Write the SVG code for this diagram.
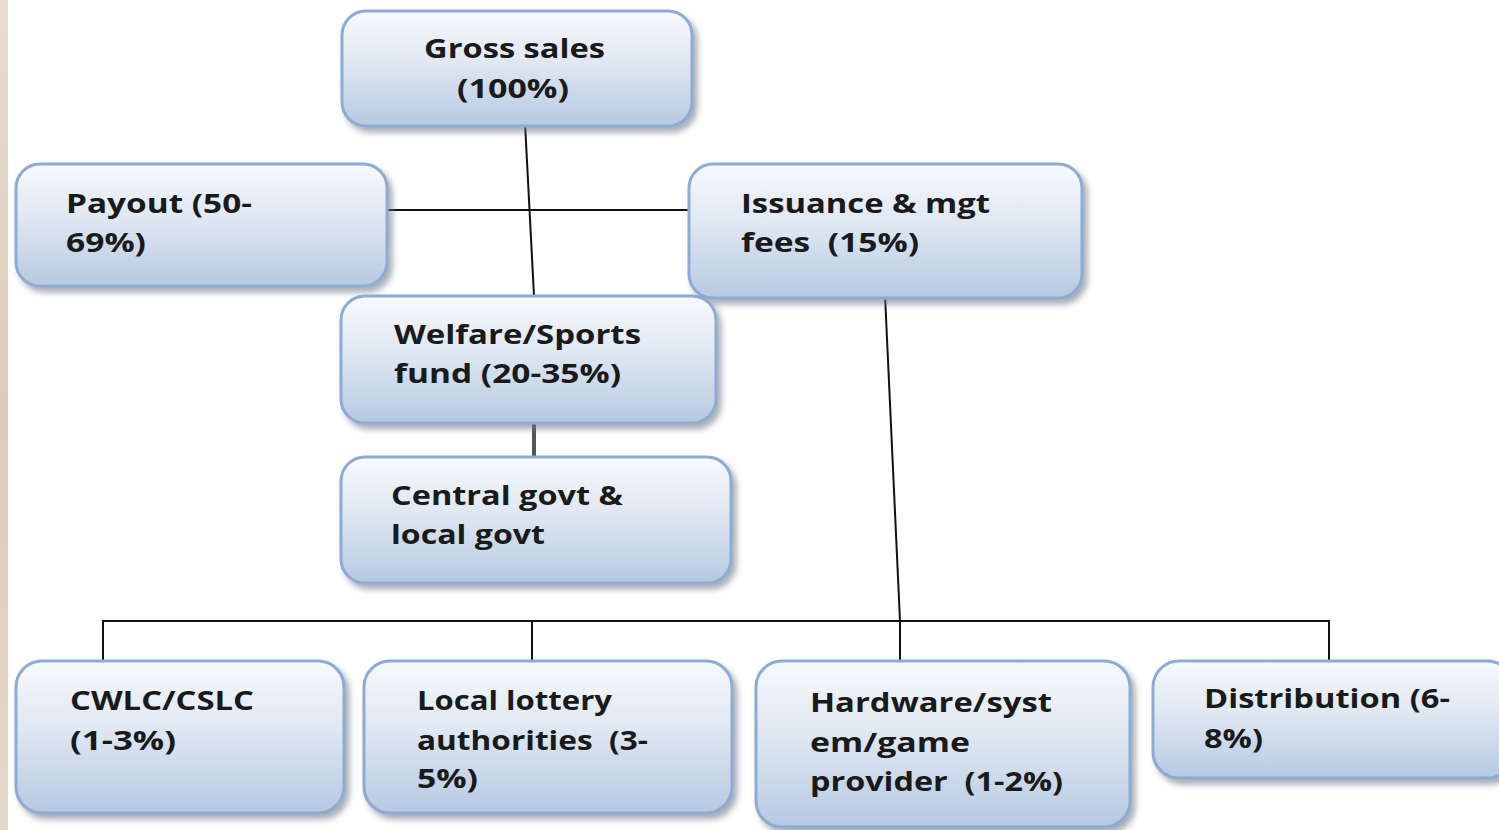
<svg xmlns="http://www.w3.org/2000/svg" width="1499" height="830" viewBox="0 0 1499 830">
<defs>
<linearGradient id="g" x1="0" y1="0" x2="0" y2="1">
<stop offset="0" stop-color="#f7f9fc"/>
<stop offset="0.45" stop-color="#dfe7f2"/>
<stop offset="1" stop-color="#b6c9e2"/>
</linearGradient>
<linearGradient id="tex" x1="0" y1="0" x2="0" y2="1">
<stop offset="0" stop-color="#e9ddd0"/>
<stop offset="0.5" stop-color="#dccbb8"/>
<stop offset="1" stop-color="#e6d8c8"/>
</linearGradient>
<filter id="sh" x="-10%" y="-10%" width="125%" height="130%">
<feGaussianBlur in="SourceAlpha" stdDeviation="3"/>
<feOffset dx="4" dy="5" result="b"/>
<feFlood flood-color="#6b7686" flood-opacity="0.6"/>
<feComposite in2="b" operator="in"/>
<feMerge><feMergeNode/><feMergeNode in="SourceGraphic"/></feMerge>
</filter>
</defs>
<style>
.box{fill:url(#g);stroke:#8eacd2;stroke-width:3;filter:url(#sh)}
.t{font-family:"Open Sans","DejaVu Sans",sans-serif;font-weight:bold;font-size:27px;fill:#1a1a1a}
.c{stroke:#111;stroke-width:2;fill:none}
</style>
<rect x="0" y="0" width="1499" height="830" fill="#ffffff"/>
<rect x="0" y="0" width="8" height="830" fill="url(#tex)"/>
<g id="connectors">
<line class="c" x1="525" y1="123" x2="534" y2="296"/>
<line class="c" x1="386" y1="210" x2="690" y2="210"/>
<line class="c" x1="885" y1="295" x2="900" y2="621"/>
<line x1="534" y1="424" x2="534" y2="458" stroke="#555" stroke-width="4"/>
<path class="c" d="M103,660 V621 H1329 V660 M532,621 V660 M900,621 V660"/>
</g>
<g id="gross">
<rect class="box" x="342" y="11" width="350" height="115" rx="24"/>
<text class="t" x="424" y="58" textLength="181" lengthAdjust="spacingAndGlyphs">Gross sales</text>
<text class="t" x="457" y="98" textLength="112" lengthAdjust="spacingAndGlyphs">(100%)</text>
</g>
<g id="payout">
<rect class="box" x="16" y="164" width="371" height="122" rx="24"/>
<text class="t" x="66" y="213" textLength="186" lengthAdjust="spacingAndGlyphs">Payout (50-</text>
<text class="t" x="66" y="252" textLength="80" lengthAdjust="spacingAndGlyphs">69%)</text>
</g>
<g id="issuance">
<rect class="box" x="689" y="164" width="393" height="134" rx="24"/>
<text class="t" x="741" y="213" textLength="249" lengthAdjust="spacingAndGlyphs">Issuance &amp; mgt</text>
<text class="t" x="741" y="252" textLength="178" lengthAdjust="spacingAndGlyphs" xml:space="preserve">fees  (15%)</text>
</g>
<g id="welfare">
<rect class="box" x="341" y="296" width="375" height="127" rx="24"/>
<text class="t" x="394" y="344" textLength="247" lengthAdjust="spacingAndGlyphs">Welfare/Sports</text>
<text class="t" x="394" y="383" textLength="227" lengthAdjust="spacingAndGlyphs">fund (20-35%)</text>
</g>
<g id="central">
<rect class="box" x="341" y="457" width="390" height="126" rx="24"/>
<text class="t" x="391" y="505" textLength="232" lengthAdjust="spacingAndGlyphs">Central govt &amp;</text>
<text class="t" x="391" y="544" textLength="154" lengthAdjust="spacingAndGlyphs">local govt</text>
</g>
<g id="cwlc">
<rect class="box" x="16" y="661" width="328" height="152" rx="26"/>
<text class="t" x="70" y="710" textLength="184" lengthAdjust="spacingAndGlyphs">CWLC/CSLC</text>
<text class="t" x="70" y="750" textLength="106" lengthAdjust="spacingAndGlyphs">(1-3%)</text>
</g>
<g id="local">
<rect class="box" x="364" y="661" width="368" height="152" rx="26"/>
<text class="t" x="417" y="710" textLength="195" lengthAdjust="spacingAndGlyphs">Local lottery</text>
<text class="t" x="417" y="750" textLength="231" lengthAdjust="spacingAndGlyphs" xml:space="preserve">authorities  (3-</text>
<text class="t" x="417" y="788" textLength="61" lengthAdjust="spacingAndGlyphs">5%)</text>
</g>
<g id="hardware">
<rect class="box" x="756" y="661" width="374" height="166" rx="26"/>
<text class="t" x="810" y="712" textLength="242" lengthAdjust="spacingAndGlyphs">Hardware/syst</text>
<text class="t" x="810" y="752" textLength="160" lengthAdjust="spacingAndGlyphs">em/game</text>
<text class="t" x="810" y="791" textLength="253" lengthAdjust="spacingAndGlyphs" xml:space="preserve">provider  (1-2%)</text>
</g>
<g id="distribution">
<rect class="box" x="1153" y="661" width="360" height="117" rx="26"/>
<text class="t" x="1204" y="708" textLength="246" lengthAdjust="spacingAndGlyphs">Distribution (6-</text>
<text class="t" x="1204" y="748" textLength="59" lengthAdjust="spacingAndGlyphs">8%)</text>
</g>
</svg>
